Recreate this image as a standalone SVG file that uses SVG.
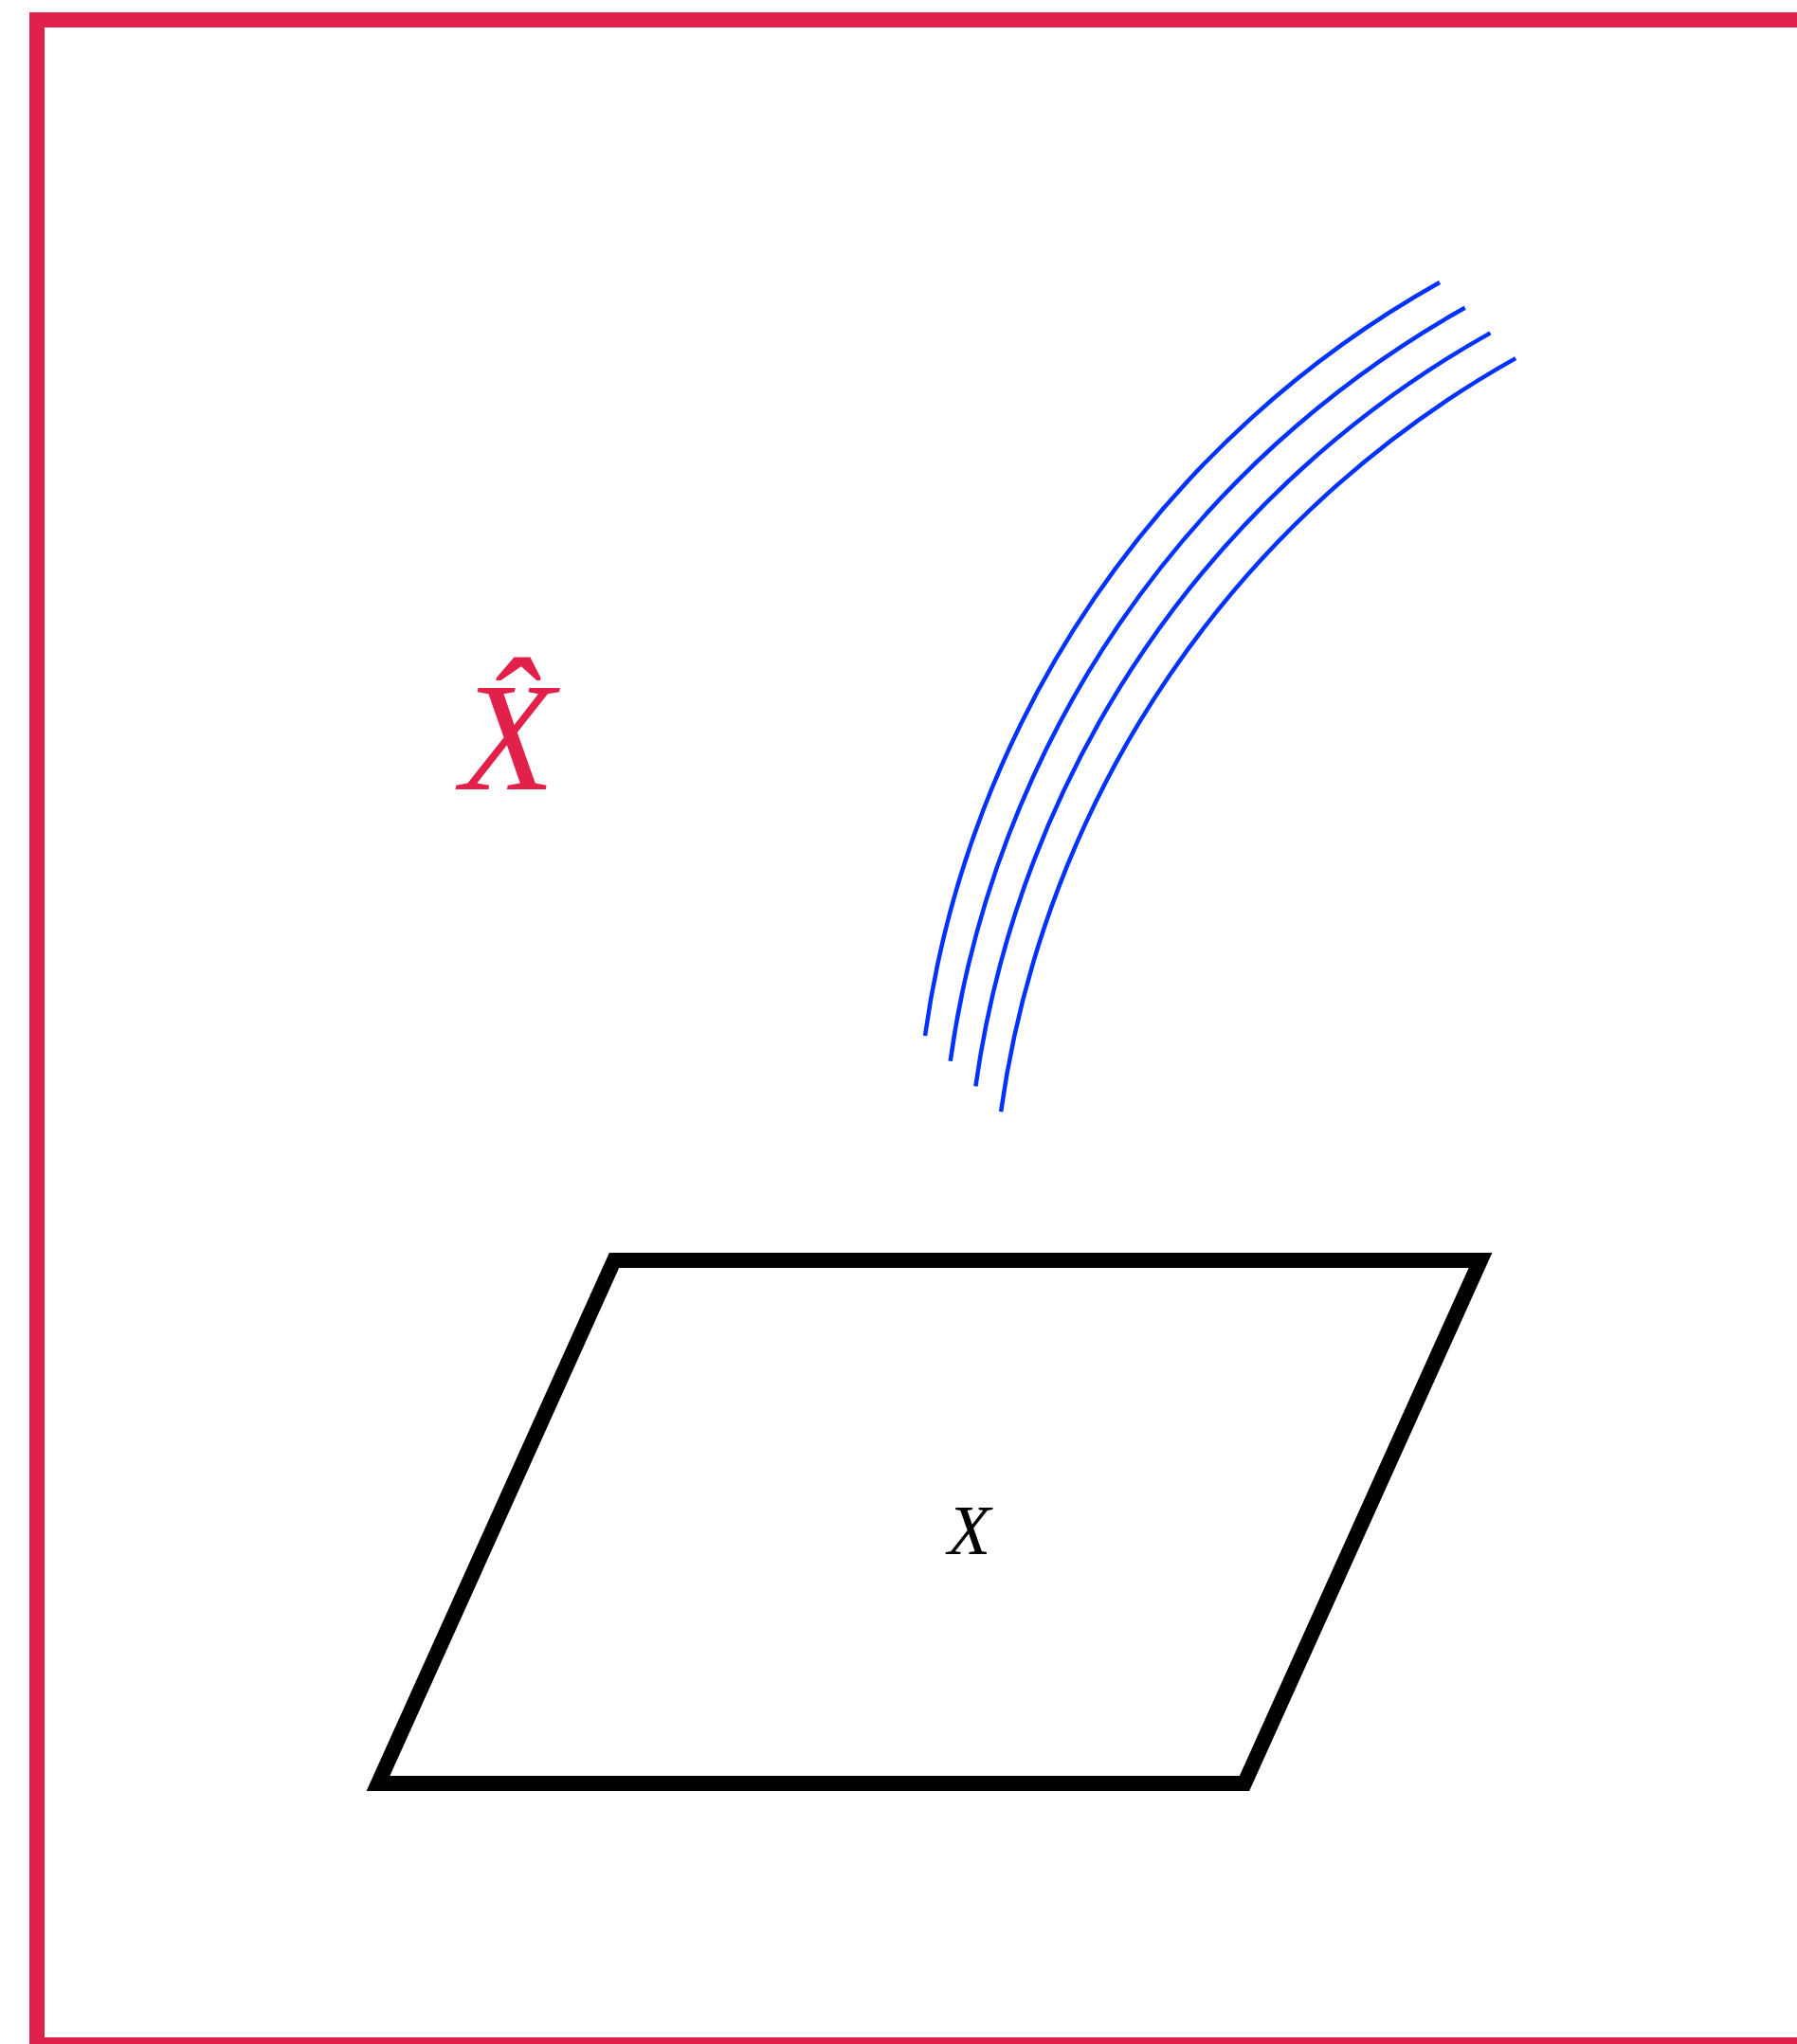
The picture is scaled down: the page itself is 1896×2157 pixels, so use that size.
<svg xmlns="http://www.w3.org/2000/svg" width="1896" height="2157" viewBox="0 0 1896 2157">
<style>
.frame{fill:none;stroke:#e2214a;stroke-width:16;stroke-linejoin:miter}
.plane{fill:none;stroke:#000;stroke-width:16;stroke-linejoin:miter;stroke-miterlimit:10}
.arc{fill:none;stroke:#0033ff;stroke-width:4.5;stroke-linecap:butt}
.lbl{font-family:"Liberation Serif","Times New Roman",serif;font-style:italic}
</style>
<rect width="1896" height="2157" fill="#fff"/>
<g id="frame">
<path class="frame" d="M1910 21 H39 V2158 H1910"/>
<text class="lbl" x="486" y="833" font-size="163" fill="#e2214a">X̂</text>
</g>
<g id="plane">
<path class="plane" d="M648 1330 H1562 L1313 1882 H399 Z"/>
<text class="lbl" x="1000" y="1640" font-size="74" fill="#000">X</text>
</g>
<g id="connectors">
<path id="arc1" class="arc" d="M976 1093 A1083 1083 0 0 1 1519 298"/>
<path id="arc2" class="arc" d="M976 1093 A1083 1083 0 0 1 1519 298" transform="translate(26.7 26.7)"/>
<path id="arc3" class="arc" d="M976 1093 A1083 1083 0 0 1 1519 298" transform="translate(53.4 53.4)"/>
<path id="arc4" class="arc" d="M976 1093 A1083 1083 0 0 1 1519 298" transform="translate(80.1 80.1)"/>
</g>
</svg>
